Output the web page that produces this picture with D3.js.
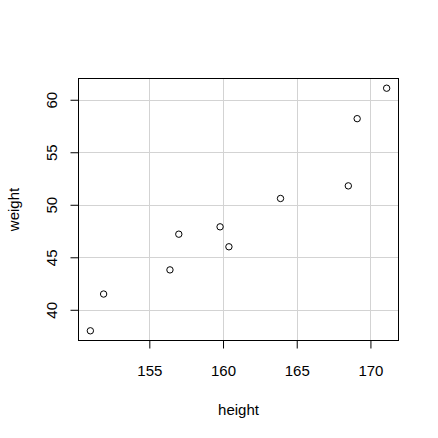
<!DOCTYPE html>
<html><head><meta charset="utf-8">
<script src="https://cdn.jsdelivr.net/npm/d3@7"></script>
<style>body{margin:0;background:#fff}svg{display:block}</style>
</head><body>
<script>
const height = [151.0, 151.9, 156.4, 157.0, 159.8, 160.4, 163.9, 168.5, 169.1, 171.1];
const weight = [38.0, 41.5, 43.8, 47.2, 47.9, 46.0, 50.6, 51.8, 58.2, 61.1];
const xTicks = [155, 160, 165, 170];
const yTicks = [40, 45, 50, 55, 60];
const xLabel = "height", yLabel = "weight";

const W = 438, H = 438;
const L = 78.5, R = 398.5, T = 78.5, B = 340.5;
const font = "'Liberation Sans', Arial, sans-serif";
const fs = 15;

function ext(a){const mn=d3.min(a),mx=d3.max(a),d=(mx-mn)*0.04;return [mn-d,mx+d];}
const x = d3.scaleLinear().domain(ext(height)).range([L, R]);
const y = d3.scaleLinear().domain(ext(weight)).range([B, T]);

const svg = d3.select("body").append("svg").attr("width", W).attr("height", H);
svg.append("rect").attr("width", W).attr("height", H).attr("fill", "#fff");

// grid
svg.append("g").selectAll("line").data(xTicks).join("line")
  .attr("x1", d => Math.round(x(d))+0.5).attr("x2", d => Math.round(x(d))+0.5)
  .attr("y1", T).attr("y2", B).attr("stroke", "#d3d3d3").attr("stroke-width", 1);
svg.append("g").selectAll("line").data(yTicks).join("line")
  .attr("y1", d => Math.round(y(d))+0.5).attr("y2", d => Math.round(y(d))+0.5)
  .attr("x1", L).attr("x2", R).attr("stroke", "#d3d3d3").attr("stroke-width", 1);

// axes
const xAxis = d3.axisBottom(x).tickValues(xTicks).tickSizeOuter(0).tickSizeInner(8).tickFormat(d3.format("d"));
const gx = svg.append("g").attr("transform", `translate(0,${B})`).call(xAxis);
gx.select(".domain").remove();
gx.selectAll("line").attr("stroke", "#000");
gx.selectAll("text").attr("font-family", font).attr("font-size", fs).attr("fill", "#000")
  .attr("y", 35.5).attr("dy", null);

const yAxis = d3.axisLeft(y).tickValues(yTicks).tickSizeOuter(0).tickSizeInner(8).tickFormat(d3.format("d"));
const gy = svg.append("g").attr("transform", `translate(${L},0)`).call(yAxis);
gy.select(".domain").remove();
gy.selectAll("line").attr("stroke", "#000");
gy.selectAll("text").attr("font-family", font).attr("font-size", fs).attr("fill", "#000")
  .attr("x", null).attr("dy", null)
  .attr("text-anchor", "middle")
  .attr("transform", "translate(-22,0) rotate(-90)");

// box
svg.append("rect").attr("x", L).attr("y", T).attr("width", R - L).attr("height", B - T)
  .attr("fill", "none").attr("stroke", "#000").attr("stroke-width", 1);

// points
svg.append("g").selectAll("circle").data(height.map((h, i) => [h, weight[i]])).join("circle")
  .attr("cx", d => x(d[0])).attr("cy", d => y(d[1])).attr("r", 3.2)
  .attr("fill", "none").attr("stroke", "#000").attr("stroke-width", 1);

// labels
svg.append("text").attr("x", (L + R) / 2).attr("y", 415).attr("text-anchor", "middle")
  .attr("font-family", font).attr("font-size", fs).text(xLabel);
svg.append("text").attr("transform", `translate(19,${(T + B) / 2}) rotate(-90)`).attr("text-anchor", "middle")
  .attr("font-family", font).attr("font-size", fs).text(yLabel);
</script>
</body></html>
